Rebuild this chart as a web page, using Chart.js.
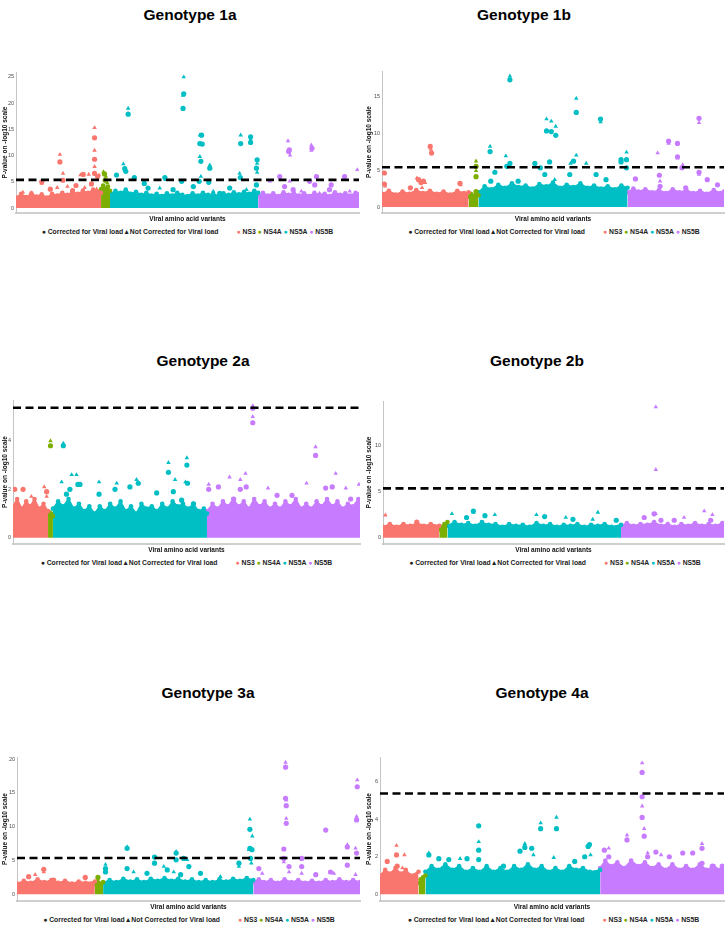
<!DOCTYPE html>
<html>
<head>
<meta charset="utf-8">
<script src="https://cdn.jsdelivr.net/npm/chart.js@4.4.1/dist/chart.umd.min.js"></script>
<style>
body { margin:0; background:#fff; width:728px; height:925px; position:relative; overflow:hidden; font-family:"Liberation Sans", Arial, sans-serif; }
.title { position:absolute; font-weight:bold; font-size:15.5px; transform:translate(-50%,-50%); white-space:nowrap; color:#000; }
.legend { position:absolute; font-weight:bold; font-size:6.8px; transform:translate(-50%,-50%); white-space:nowrap; color:#222; }
.legend .gap { display:inline-block; width:18px; }
</style>
</head>
<body>
<script>
// Data preparation
const regionNames = ['NS3', 'NS4A', 'NS5A', 'NS5B']
const regionColors = ['#F8766D', '#7CAE00', '#00BFC4', '#C77CFF']
const shapeNames = ['Corrected for Viral load', 'Not Corrected for Viral load']
const titles = ['Genotype 1a', 'Genotype 1b', 'Genotype 2a', 'Genotype 2b', 'Genotype 3a', 'Genotype 4a']
const xTitle = 'Viral amino acid variants'
const yTitle = 'P-value on -log10 scale'
const threshold = 5.37

// region start positions (variant index 0..1000) for NS4A, NS5A, NS5B
const bounds1a = [248, 274, 706]
const bounds1b = [253, 282, 718]
const bounds2a = [101, 115, 559]
const bounds2b = [165, 189, 698]
const bounds3a = [227, 251, 689]
const bounds4a = [112, 132, 640]

// upper edge of the dense cloud of points, per region
const band1a = [
  [[0,2.0],[15,2.7],[30,2.1],[45,2.8],[60,2.2],[75,2.6],[90,2.0],[105,2.7],[120,2.4],[135,2.9],[150,2.5],[165,3.1],[180,2.7],[195,3.3],[210,2.9],[225,3.5],[240,3.1],[248,2.9]],
  [[248,3.6],[254,4.3],[261,3.7],[268,4.1],[274,3.3]],
  [[274,2.7],[290,3.3],[305,2.9],[320,3.5],[335,2.7],[350,3.1],[365,2.5],[380,2.9],[395,2.4],[410,2.7],[425,2.3],[440,2.8],[455,2.4],[470,2.9],[485,2.5],[500,2.3],[515,2.8],[530,2.4],[545,2.9],[560,2.5],[575,2.7],[590,2.3],[605,2.8],[620,2.5],[635,3.0],[650,2.6],[665,3.1],[680,2.7],[695,3.3],[706,2.9]],
  [[706,2.3],[720,2.9],[735,2.4],[750,2.8],[765,2.3],[780,3.0],[795,2.5],[810,2.9],[825,2.4],[840,2.8],[855,2.3],[870,2.9],[885,2.5],[900,2.7],[915,2.3],[930,3.0],[945,2.5],[960,2.8],[975,2.4],[990,2.9],[1000,2.6]]
]
const band1b = [
  [[0,1.8],[20,2.2],[40,1.7],[60,2.1],[80,1.8],[100,2.3],[120,1.9],[140,2.2],[160,1.8],[180,2.1],[200,1.7],[220,2.2],[240,1.9],[253,2.0]],
  [[253,1.4],[260,1.8],[268,1.5],[275,1.9],[282,1.6]],
  [[282,2.0],[300,2.8],[320,2.4],[340,3.0],[360,2.6],[380,3.2],[400,2.7],[420,2.9],[440,2.5],[460,3.1],[480,2.8],[500,3.3],[520,2.6],[540,3.0],[560,2.7],[580,3.2],[600,2.6],[620,2.9],[640,2.5],[660,2.8],[680,2.4],[700,2.9],[718,2.6]],
  [[718,2.0],[735,2.5],[750,2.1],[770,2.4],[790,2.0],[810,2.3],[830,1.9],[850,2.4],[870,2.0],[890,2.3],[910,1.9],[930,2.2],[950,1.8],[970,2.3],[990,1.9],[1000,2.1]]
]
const band2a = [
  [[0,1.3],[12,1.6],[25,1.2],[38,1.5],[50,1.3],[62,1.6],[75,1.2],[88,1.4],[101,1.1]],
  [[101,0.9],[105,1.05],[110,1.0],[115,0.9]],
  [[115,1.2],[130,1.5],[145,1.3],[160,1.6],[175,1.2],[190,1.4],[205,1.1],[220,1.3],[235,1.0],[250,1.3],[265,1.1],[280,1.4],[295,1.2],[310,1.5],[325,1.1],[340,1.3],[355,1.0],[370,1.4],[385,1.2],[400,1.3],[415,1.1],[430,1.4],[445,1.2],[460,1.5],[475,1.3],[490,1.4],[505,1.2],[520,1.4],[535,1.1],[550,1.2],[559,1.0]],
  [[559,1.1],[575,1.4],[590,1.2],[605,1.5],[620,1.3],[635,1.6],[650,1.3],[665,1.5],[680,1.2],[695,1.6],[710,1.3],[725,1.5],[740,1.2],[755,1.4],[770,1.2],[785,1.5],[800,1.3],[815,1.6],[830,1.2],[845,1.4],[860,1.2],[875,1.5],[890,1.3],[905,1.6],[920,1.3],[935,1.5],[950,1.2],[965,1.4],[980,1.3],[995,1.6],[1000,1.4]]
]
const band2b = [
  [[0,1.2],[20,1.5],[40,1.2],[60,1.5],[80,1.3],[100,1.6],[120,1.3],[140,1.5],[165,1.3]],
  [[165,0.9],[172,1.2],[180,1.5],[189,1.7]],
  [[189,1.3],[210,1.7],[230,1.4],[250,1.6],[270,1.3],[290,1.7],[310,1.4],[330,1.5],[350,1.2],[370,1.5],[390,1.3],[410,1.4],[430,1.2],[450,1.6],[470,1.3],[490,1.5],[510,1.2],[530,1.4],[550,1.3],[570,1.5],[590,1.2],[610,1.4],[630,1.3],[650,1.5],[670,1.2],[698,1.4]],
  [[698,1.3],[715,1.6],[735,1.3],[755,1.5],[775,1.4],[795,1.7],[815,1.3],[835,1.5],[855,1.2],[875,1.5],[895,1.3],[915,1.6],[935,1.3],[955,1.5],[975,1.3],[995,1.6],[1000,1.4]]
]
const band3a = [
  [[0,1.6],[20,2.0],[40,1.7],[60,2.2],[80,1.8],[100,2.1],[120,1.7],[140,2.0],[160,1.6],[180,1.9],[200,1.7],[227,1.9]],
  [[227,1.5],[235,1.9],[243,1.6],[251,1.8]],
  [[251,1.7],[270,2.1],[290,1.8],[310,2.3],[330,1.9],[350,2.2],[370,1.8],[390,2.3],[410,2.0],[430,2.4],[450,2.0],[470,2.3],[490,1.9],[510,2.2],[530,1.8],[550,2.1],[570,1.8],[590,2.2],[610,1.9],[630,2.3],[650,2.0],[670,2.4],[689,2.1]],
  [[689,1.8],[705,2.2],[720,1.8],[740,2.1],[760,1.7],[780,2.2],[800,1.8],[820,2.1],[840,1.7],[860,2.0],[880,1.7],[900,2.1],[920,1.8],[940,2.2],[960,1.8],[980,2.1],[1000,1.8]]
]
const band4a = [
  [[0,1.0],[15,1.3],[30,1.1],[45,1.4],[60,1.1],[75,1.3],[90,1.0],[112,1.2]],
  [[112,0.6],[118,0.8],[125,0.9],[132,1.0]],
  [[132,1.2],[150,1.5],[170,1.3],[190,1.6],[210,1.3],[230,1.5],[250,1.2],[270,1.4],[290,1.2],[310,1.5],[330,1.2],[350,1.4],[370,1.2],[390,1.5],[410,1.3],[430,1.6],[450,1.3],[470,1.5],[490,1.2],[510,1.4],[530,1.2],[550,1.5],[570,1.3],[590,1.4],[610,1.2],[640,1.3]],
  [[640,1.4],[655,1.8],[670,1.5],[690,1.7],[710,1.4],[730,1.8],[750,1.5],[770,1.7],[790,1.4],[810,1.6],[830,1.3],[850,1.6],[870,1.3],[890,1.5],[910,1.3],[930,1.6],[950,1.3],[970,1.5],[990,1.3],[1000,1.4]]
]

// variants standing out of the cloud: [index, -log10 p, 'c' corrected | 't' not corrected]
const pts1a = [
  [20,3.0,'t'],[45,2.9,'t'],[75,5.0,'c'],[75,4.7,'t'],[100,3.6,'c'],[120,3.9,'t'],[128,10.2,'t'],[128,8.8,'c'],[137,6.6,'t'],[137,5.3,'c'],[150,4.1,'t'],[165,3.3,'c'],[175,4.3,'c'],[188,6.3,'t'],[196,6.4,'c'],[200,3.9,'t'],[212,6.4,'t'],[220,4.6,'c'],[229,15.3,'t'],[229,13.4,'c'],[229,11.0,'t'],[229,9.3,'c'],[229,7.9,'t'],[229,6.6,'c'],[235,3.6,'t'],[238,6.0,'c'],[242,6.3,'t'],
  [255,6.9,'t'],[258,6.5,'c'],[262,6.0,'t'],[260,5.3,'c'],[266,4.8,'t'],
  [293,6.3,'c'],[313,8.4,'t'],[317,7.5,'c'],[320,7.0,'c'],[327,19.0,'t'],[327,17.9,'c'],[345,5.8,'c'],[374,4.7,'c'],[385,3.8,'c'],[419,3.8,'t'],[434,5.8,'c'],[436,5.4,'t'],[458,3.5,'c'],[483,5.1,'c'],[489,25.0,'t'],[489,21.8,'c'],[487,21.5,'t'],[487,19.0,'c'],[517,4.1,'c'],[536,13.9,'t'],[541,13.9,'c'],[536,12.3,'c'],[543,12.2,'c'],[536,9.8,'t'],[539,8.9,'c'],[539,6.0,'t'],[534,5.1,'c'],[562,4.9,'c'],[565,8.2,'t'],[565,7.6,'c'],[575,3.2,'t'],[594,2.8,'c'],[623,3.8,'c'],[652,6.6,'t'],[654,5.8,'c'],[655,13.9,'t'],[655,12.3,'c'],[672,3.5,'t'],[684,13.6,'c'],[684,13.1,'t'],[684,12.5,'c'],[703,9.2,'c'],[703,8.5,'t'],[701,7.6,'c'],[703,6.8,'t'],[701,4.4,'c'],
  [740,5.1,'t'],[769,6.0,'c'],[783,4.1,'c'],[793,12.8,'t'],[797,11.1,'c'],[799,10.1,'t'],[795,10.8,'c'],[798,5.1,'t'],[808,3.5,'c'],[832,3.2,'t'],[856,5.1,'c'],[861,12.0,'t'],[863,11.4,'c'],[861,11.0,'t'],[871,4.4,'c'],[876,6.0,'c'],[885,2.8,'t'],[914,3.5,'c'],[919,4.4,'c'],[924,2.5,'t'],[958,6.0,'c'],[973,3.2,'t'],[995,7.3,'t']
]
const pts1b = [
  [7,4.6,'c'],[7,3.1,'c'],[9,2.8,'t'],[83,2.6,'c'],[102,3.9,'t'],[107,3.7,'c'],[114,3.3,'c'],[117,2.6,'t'],[121,3.5,'c'],[126,3.3,'t'],[141,8.2,'c'],[143,7.8,'t'],[145,7.3,'c'],[228,3.2,'c'],[230,3.0,'t'],
  [275,6.2,'t'],[275,5.5,'c'],[275,4.9,'t'],[275,4.1,'c'],[275,2.1,'c'],
  [316,8.2,'t'],[316,7.5,'c'],[318,3.5,'c'],[330,4.7,'c'],[362,6.9,'t'],[374,17.7,'t'],[374,17.2,'c'],[374,5.9,'c'],[365,5.5,'c'],[398,3.5,'c'],[447,5.9,'c'],[463,5.3,'c'],[476,4.4,'c'],[481,11.9,'t'],[481,10.3,'c'],[490,6.1,'c'],[495,11.6,'t'],[495,10.2,'c'],[505,3.7,'t'],[508,10.9,'t'],[508,9.7,'c'],[549,4.4,'c'],[551,5.9,'t'],[560,6.2,'c'],[568,14.7,'t'],[568,12.8,'c'],[568,7.0,'t'],[597,5.9,'t'],[626,4.4,'c'],[639,11.9,'c'],[639,11.5,'t'],[655,3.7,'c'],[699,6.4,'c'],[699,6.1,'c'],[715,7.4,'t'],[715,6.4,'c'],[715,5.3,'c'],
  [741,3.8,'c'],[806,7.3,'t'],[811,4.3,'c'],[813,3.5,'t'],[813,2.8,'c'],[838,8.9,'c'],[838,8.6,'t'],[864,8.6,'c'],[864,6.8,'c'],[864,6.6,'t'],[879,5.7,'t'],[877,5.3,'c'],[888,2.6,'c'],[927,12.0,'c'],[927,11.4,'t'],[927,4.7,'c'],[927,4.4,'t'],[951,3.7,'c'],[981,3.0,'c']
]
const pts2a = [
  [5,2.0,'c'],[29,2.0,'c'],[53,1.7,'t'],[90,2.1,'t'],[97,1.9,'c'],[97,1.7,'t'],
  [108,4.0,'t'],[108,3.8,'c'],
  [140,2.3,'t'],[145,3.9,'t'],[145,3.8,'c'],[154,1.8,'c'],[164,2.0,'c'],[169,2.6,'t'],[183,2.6,'t'],[187,2.2,'c'],[193,2.2,'c'],[248,2.3,'t'],[248,1.8,'c'],[294,2.0,'c'],[299,2.25,'t'],[337,2.1,'c'],[356,2.4,'t'],[361,2.25,'c'],[414,1.85,'c'],[448,3.1,'t'],[448,2.7,'c'],[462,1.9,'c'],[467,2.4,'t'],[486,1.55,'c'],[501,3.3,'t'],[501,3.0,'c'],[497,2.3,'t'],[503,2.25,'c'],[520,1.4,'c'],
  [564,2.2,'t'],[564,2.0,'c'],[592,2.1,'c'],[624,2.5,'t'],[636,1.6,'c'],[655,2.4,'t'],[655,2.0,'c'],[670,2.65,'t'],[672,2.1,'c'],[691,5.45,'t'],[691,5.35,'c'],[691,5.0,'t'],[691,4.75,'c'],[735,2.05,'t'],[761,1.75,'c'],[804,1.75,'c'],[846,2.25,'t'],[872,3.75,'t'],[872,3.4,'c'],[901,2.05,'c'],[920,2.1,'c'],[930,2.65,'t'],[959,2.05,'t'],[973,1.6,'c'],[997,2.2,'t']
]
const pts2b = [
  [7,2.45,'t'],[99,1.7,'c'],
  [202,2.6,'t'],[245,2.2,'c'],[265,2.9,'c'],[265,2.75,'t'],[299,2.4,'c'],[328,2.5,'t'],[450,2.5,'t'],[474,2.3,'c'],[536,2.2,'t'],[557,2.0,'c'],[615,2.0,'t'],[630,2.75,'t'],[684,1.9,'c'],
  [766,2.2,'c'],[795,2.6,'c'],[800,14.2,'t'],[800,7.4,'t'],[800,2.6,'t'],[815,1.9,'c'],[854,1.9,'c'],[883,2.2,'t'],[942,2.9,'t'],[961,1.9,'c'],[966,2.5,'t']
]
const pts3a = [
  [34,2.6,'c'],[53,2.9,'t'],[78,3.7,'c'],[78,3.3,'t'],[107,2.1,'c'],[199,2.5,'c'],
  [236,2.5,'c'],
  [258,4.4,'t'],[258,3.8,'c'],[258,3.3,'c'],[321,7.0,'t'],[321,6.8,'c'],[321,3.8,'c'],[340,3.3,'t'],[379,3.1,'c'],[401,5.5,'c'],[401,4.6,'c'],[428,4.1,'t'],[438,3.6,'c'],[457,3.3,'t'],[464,6.3,'t'],[464,6.1,'c'],[464,5.1,'c'],[477,2.9,'c'],[486,5.3,'c'],[496,5.1,'t'],[501,4.1,'c'],[535,3.1,'c'],[593,2.6,'t'],[647,4.6,'c'],[647,4.1,'t'],[679,11.1,'t'],[679,9.6,'c'],[686,8.6,'t'],[679,6.8,'c'],[676,6.6,'t'],[685,6.6,'c'],[681,5.3,'c'],[683,4.6,'t'],
  [705,3.8,'c'],[715,3.1,'t'],[778,6.7,'c'],[778,5.3,'c'],[778,4.8,'t'],[783,19.5,'t'],[783,18.8,'c'],[783,14.2,'c'],[785,13.9,'t'],[785,13.1,'c'],[785,11.2,'t'],[785,10.5,'c'],[793,4.1,'c'],[793,3.3,'t'],[830,5.3,'c'],[830,4.1,'c'],[830,3.1,'t'],[871,2.9,'c'],[900,9.5,'c'],[914,3.3,'c'],[924,3.1,'t'],[963,7.3,'t'],[963,7.0,'c'],[963,4.3,'c'],[992,16.9,'t'],[992,15.9,'c'],[990,11.5,'t'],[990,11.0,'c'],[987,6.8,'t'],[990,6.1,'c'],[987,2.9,'t']
]
const pts4a = [
  [21,1.75,'c'],[48,2.6,'t'],[48,2.1,'c'],[50,1.5,'c'],[65,1.4,'t'],[71,2.1,'t'],
  [142,2.2,'t'],[142,2.1,'c'],[171,1.9,'c'],[200,1.85,'c'],[233,1.9,'t'],[253,1.9,'c'],[287,3.65,'c'],[287,2.8,'t'],[287,2.35,'c'],[287,1.85,'c'],[359,1.5,'c'],[407,2.3,'c'],[421,2.7,'t'],[421,2.5,'c'],[441,2.45,'c'],[446,2.1,'t'],[467,3.8,'t'],[467,3.5,'c'],[505,1.95,'t'],[513,4.1,'t'],[513,3.5,'c'],[566,1.75,'c'],[595,2.0,'c'],[605,2.55,'c'],[609,2.65,'c'],[612,2.1,'t'],
  [652,2.35,'c'],[665,2.45,'t'],[665,2.0,'c'],[718,3.15,'t'],[718,2.9,'c'],[762,7.0,'t'],[762,6.5,'c'],[762,5.2,'c'],[762,4.7,'t'],[762,4.1,'c'],[768,3.5,'t'],[768,3.1,'c'],[778,2.2,'t'],[778,2.0,'c'],[802,2.25,'c'],[817,2.1,'t'],[841,2.0,'c'],[880,2.2,'c'],[909,2.2,'c'],[936,2.7,'t'],[936,2.45,'c'],[936,1.65,'c'],[966,1.5,'c'],[995,1.5,'c']
]

// Layout of the six panels on the page (pixels) and axis ranges
const panels = [
  {col:0,   L:16,  R:359, T:72,  B:213, tx:190, ty:15,  ymin:-0.95, ymax:25.95, step:5, bands:band1a, pts:pts1a, bounds:bounds1a},
  {col:364, L:382, R:726, T:71,  B:213, tx:524, ty:15,  ymin:-0.81, ymax:18.4,  step:5, bands:band1b, pts:pts1b, bounds:bounds1b},
  {col:0,   L:13,  R:360, T:400, B:544, tx:203, ty:361, ymin:-0.26, ymax:5.69,  step:2, bands:band2a, pts:pts2a, bounds:bounds2a},
  {col:364, L:383, R:727, T:401, B:544, tx:537, ty:361, ymin:-0.68, ymax:14.86, step:5, bands:band2b, pts:pts2b, bounds:bounds2b},
  {col:0,   L:17,  R:361, T:757, B:901, tx:208, ty:693, ymin:-0.99, ymax:20.3,  step:5, bands:band3a, pts:pts3a, bounds:bounds3a},
  {col:364, L:380, R:727, T:757, B:901, tx:542, ty:693, ymin:-0.36, ymax:7.32,  step:2, bands:band4a, pts:pts4a, bounds:bounds4a},
]

Chart.defaults.font.family = '"Liberation Sans", Arial, sans-serif'
Chart.defaults.animation = false

const PAD_TOP = 8
const X_AXIS_H = 10

panels.forEach((p, i) => {
  // title
  const t = document.createElement('div')
  t.className = 'title'
  t.textContent = titles[i]
  t.style.left = p.tx + 'px'
  t.style.top = p.ty + 'px'
  document.body.appendChild(t)

  // canvas
  const h = p.B - p.T + PAD_TOP + X_AXIS_H
  const canvas = document.createElement('canvas')
  canvas.width = 364
  canvas.height = h
  canvas.style.cssText = `position:absolute;left:${p.col}px;top:${p.T - PAD_TOP}px;width:364px;height:${h}px`
  document.body.appendChild(canvas)

  const regionOf = x => p.bounds.filter(b => x >= b).length

  const dashed = {
    type: 'line',
    data: [{x: 0, y: threshold}, {x: 1000, y: threshold}],
    borderColor: '#000', borderWidth: 2.6, borderDash: [8, 4.5],
    pointRadius: 0, fill: false, order: 0
  }
  const pointSets = regionNames.map((name, r) => ({
    type: 'scatter',
    label: name,
    data: p.pts.filter(v => regionOf(v[0]) === r).map(v => ({x: v[0], y: v[1], s: v[2]})),
    pointStyle: ctx => (ctx.raw && ctx.raw.s === 't') ? 'triangle' : 'circle',
    pointRadius: 2.6,
    backgroundColor: regionColors[r],
    borderColor: regionColors[r],
    borderWidth: 0,
    order: 1
  }))
  const bandSets = p.bands.map((band, r) => ({
    type: 'line',
    label: regionNames[r] + ' cloud',
    data: band.map(v => ({x: v[0], y: v[1]})),
    borderColor: regionColors[r],
    backgroundColor: regionColors[r],
    borderWidth: 1.5,
    tension: 0,
    fill: 'origin',
    pointRadius: 2.3,
    pointBorderWidth: 0,
    pointBackgroundColor: regionColors[r],
    order: 2
  }))

  new Chart(canvas, {
    type: 'scatter',
    data: { datasets: [dashed, ...pointSets, ...bandSets] },
    options: {
      responsive: false,
      layout: { padding: { top: PAD_TOP, right: p.col + 364 - p.R, left: 0, bottom: 0 } },
      plugins: { legend: { display: false }, tooltip: { enabled: false } },
      scales: {
        x: {
          type: 'linear', min: 0, max: 1000,
          ticks: { display: false },
          grid: { display: false, drawTicks: false },
          border: { display: true, color: '#cfcfcf', width: 2 },
          title: { display: true, text: xTitle, color: '#111', padding: 0, font: { size: 6.5, weight: 'bold' } },
          afterFit: s => { s.height = X_AXIS_H }
        },
        y: {
          type: 'linear', min: p.ymin, max: p.ymax,
          ticks: { stepSize: p.step, includeBounds: false, autoSkip: false, padding: 2, color: '#4d4d4d', font: { size: 5.5 } },
          grid: { display: false, drawTicks: false },
          border: { display: true, color: '#c4c4c4', width: 1 },
          title: { display: true, text: yTitle, color: '#111', padding: { top: 1, bottom: 0 }, font: { size: 6.5, weight: 'bold' } },
          afterFit: s => { s.width = p.L - p.col }
        }
      }
    }
  })

  // legend
  const lg = document.createElement('div')
  lg.className = 'legend'
  lg.style.left = ((p.L + p.R) / 2) + 'px'
  lg.style.top = (p.B + 18) + 'px'
  lg.innerHTML = `<span>&#9679;</span> ${shapeNames[0]}<span>&#9650;</span>${shapeNames[1]}<span class="gap"></span>` +
    regionNames.map((n, r) => `<span style="color:${regionColors[r]}">&#9679;</span> ${n}`).join(' ')
  document.body.appendChild(lg)
})
</script>
</body>
</html>
